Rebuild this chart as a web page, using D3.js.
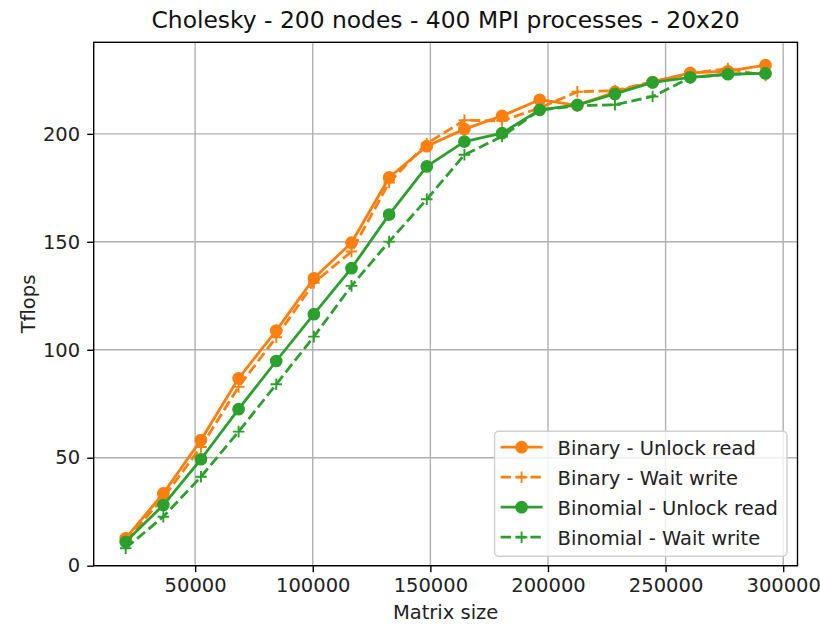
<!DOCTYPE html>
<html>
<head>
<meta charset="utf-8">
<script src="https://cdn.jsdelivr.net/npm/d3@7"></script>
<style>
  html, body { margin: 0; padding: 0; background: #fff; }
  svg { display: block; font-family: "DejaVu Sans", sans-serif; }
</style>
</head>
<body>
<svg id="chart" width="820" height="624"></svg>
<script>
// ---- data ----
const matrixSizes = [20480, 36480, 52480, 68480, 84480, 100480, 116480, 132480, 148480,
                     164480, 180480, 196480, 212480, 228480, 244480, 260480, 276480, 292480];
const binaryUnlockRead   = [12.7, 33.5, 58.2, 86.8, 108.9, 133.1, 149.6, 179.8, 194.3,
                            202.2, 208.3, 215.8, 213.2, 219.4, 224.0, 228.2, 229.0, 231.8];
const binaryWaitWrite    = [11.5, 31.5, 55.0, 82.8, 105.8, 131.0, 145.5, 177.5, 195.5,
                            206.3, 206.0, 212.0, 219.5, 220.0, 224.2, 228.0, 230.2, 227.0];
const binomialUnlockRead = [11.1, 28.1, 49.3, 72.5, 94.8, 116.5, 137.8, 162.6, 184.9,
                            196.4, 200.3, 211.1, 213.4, 218.5, 223.8, 226.2, 227.6, 228.0];
const binomialWaitWrite  = [8.1, 22.7, 41.2, 62.1, 84.0, 106.1, 129.6, 150.1, 169.7,
                            190.3, 198.8, 211.0, 213.0, 213.5, 217.3, 226.0, 227.6, 228.2];
const xTicks = [50000, 100000, 150000, 200000, 250000, 300000];
const yTicks = [0, 50, 100, 150, 200];
const seriesNames = ["Binary - Unlock read", "Binary - Wait write",
                     "Binomial - Unlock read", "Binomial - Wait write"];
const titleText = "Cholesky - 200 nodes - 400 MPI processes - 20x20";
const xLabel = "Matrix size";
const yLabel = "Tflops";

// ---- layout ----
const ORANGE = "#ff7f0e", GREEN = "#2ca02c";
const plot = { left: 93.7, right: 797.5, top: 42.3, bottom: 565.7 };
const svg = d3.select("#chart");

const x = d3.scaleLinear().domain([6880, 306080]).range([plot.left, plot.right]);
const y = d3.scaleLinear().domain([0, 242.4]).range([plot.bottom, plot.top]);

const series = [
  { name: seriesNames[0], values: binaryUnlockRead,   color: ORANGE, dashed: false, marker: "circle" },
  { name: seriesNames[1], values: binaryWaitWrite,    color: ORANGE, dashed: true,  marker: "plus" },
  { name: seriesNames[2], values: binomialUnlockRead, color: GREEN,  dashed: false, marker: "circle" },
  { name: seriesNames[3], values: binomialWaitWrite,  color: GREEN,  dashed: true,  marker: "plus" }
];

const LW = 2.8, DASH = "10.4,4.5";

// grid
const grid = svg.append("g");
grid.selectAll(".gx").data(xTicks).enter().append("line")
  .attr("x1", d => x(d)).attr("x2", d => x(d))
  .attr("y1", plot.top).attr("y2", plot.bottom)
  .attr("stroke", "#b0b0b0").attr("stroke-width", 1.4);
grid.selectAll(".gy").data(yTicks).enter().append("line")
  .attr("y1", d => y(d)).attr("y2", d => y(d))
  .attr("x1", plot.left).attr("x2", plot.right)
  .attr("stroke", "#b0b0b0").attr("stroke-width", 1.4);

// clip
svg.append("clipPath").attr("id", "clip").append("rect")
  .attr("x", plot.left).attr("y", plot.top)
  .attr("width", plot.right - plot.left).attr("height", plot.bottom - plot.top);

const line = d3.line().x(d => x(d[0])).y(d => y(d[1]));

function drawMarker(g, shape, color, cx, cy) {
  if (shape === "circle") {
    g.append("circle").attr("cx", cx).attr("cy", cy).attr("r", 5.7)
      .attr("fill", color).attr("stroke", color).attr("stroke-width", 1.3);
  } else {
    const s = 5.8;
    g.append("path").attr("d", `M${cx - s},${cy}H${cx + s}M${cx},${cy - s}V${cy + s}`)
      .attr("stroke", color).attr("stroke-width", 1.9).attr("fill", "none");
  }
}

const marks = svg.append("g").attr("clip-path", "url(#clip)");
series.forEach(s => {
  const pts = matrixSizes.map((m, i) => [m, s.values[i]]);
  const g = marks.append("g");
  g.append("path").datum(pts).attr("d", line)
    .attr("fill", "none").attr("stroke", s.color).attr("stroke-width", LW)
    .attr("stroke-linejoin", "round").attr("stroke-linecap", s.dashed ? "butt" : "square")
    .attr("stroke-dasharray", s.dashed ? DASH : null);
  pts.forEach(p => drawMarker(g, s.marker, s.color, x(p[0]), y(p[1])));
});

// axes
const fs = 19.5;
const xAxis = d3.axisBottom(x).tickValues(xTicks).tickSize(6.5).tickPadding(6).tickFormat(d3.format("d"));
const yAxis = d3.axisLeft(y).tickValues(yTicks).tickSize(6.5).tickPadding(7).tickFormat(d3.format("d"));
const gx = svg.append("g").attr("transform", `translate(0,${plot.bottom})`).call(xAxis);
const gy = svg.append("g").attr("transform", `translate(${plot.left},0)`).call(yAxis);
[gx, gy].forEach(g => {
  g.select(".domain").remove();
  g.selectAll(".tick line").attr("stroke", "#000").attr("stroke-width", 1.4);
  g.selectAll(".tick text").attr("fill", "#222").style("font-size", fs + "px")
    .style("font-family", "'DejaVu Sans', sans-serif");
});

// frame
svg.append("rect").attr("x", plot.left).attr("y", plot.top)
  .attr("width", plot.right - plot.left).attr("height", plot.bottom - plot.top)
  .attr("fill", "none").attr("stroke", "#000").attr("stroke-width", 1.4);

// labels
svg.append("text").attr("x", (plot.left + plot.right) / 2).attr("y", 28)
  .attr("text-anchor", "middle").style("font-size", "23.4px").attr("fill", "#111").text(titleText);
svg.append("text").attr("x", (plot.left + plot.right) / 2).attr("y", 619)
  .attr("text-anchor", "middle").style("font-size", fs + "px").attr("fill", "#222").text(xLabel);
svg.append("text").attr("transform", `translate(35,${(plot.top + plot.bottom) / 2}) rotate(-90)`)
  .attr("text-anchor", "middle").style("font-size", fs + "px").attr("fill", "#222").text(yLabel);

// legend
const leg = svg.append("g");
const rowH = 30;
const legRight = plot.right - 10.5, legBottom = plot.bottom - 9.5;
const box = leg.append("rect").attr("rx", 4).attr("ry", 4)
  .attr("fill", "rgba(255,255,255,0.8)").attr("stroke", "#d0d0d0").attr("stroke-width", 1.4);
const texts = [];
series.forEach((s, i) => {
  const t = leg.append("text").style("font-size", fs + "px").attr("fill", "#222")
    .attr("dominant-baseline", "central").text(s.name);
  texts.push(t);
});
const maxW = d3.max(texts, t => t.node().getComputedTextLength());
const legW = 63 + maxW + 9;
const legH = rowH * series.length + 5;
const legLeft = legRight - legW, legTop = legBottom - legH;
box.attr("x", legLeft).attr("y", legTop).attr("width", legW).attr("height", legH);
series.forEach((s, i) => {
  const cy = legTop + 16 + i * rowH;
  leg.append("line").attr("x1", legLeft + 6).attr("x2", legLeft + 48)
    .attr("y1", cy).attr("y2", cy).attr("stroke", s.color).attr("stroke-width", LW)
    .attr("stroke-dasharray", s.dashed ? DASH : null);
  drawMarker(leg, s.marker, s.color, legLeft + 27, cy);
  texts[i].attr("x", legLeft + 63).attr("y", cy + 1);
});
</script>
</body>
</html>
